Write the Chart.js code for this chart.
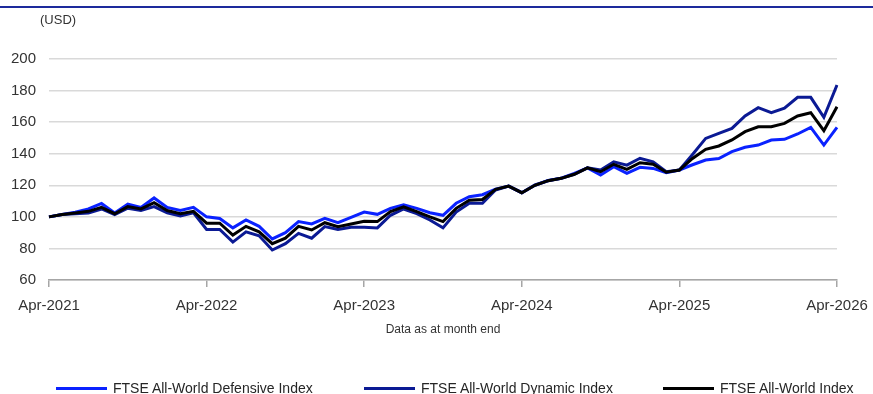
<!DOCTYPE html>
<html>
<head>
<meta charset="utf-8">
<script src="https://cdn.jsdelivr.net/npm/chart.js@4.4.0/dist/chart.umd.min.js"></script>
<style>
  html, body { margin: 0; padding: 0; background: #fff; }
  body { width: 873px; height: 394px; position: relative; overflow: hidden;
         font-family: "Liberation Sans", Arial, sans-serif; color: #333; }
  .topline { position: absolute; left: 0; top: 6px; width: 873px; height: 2px; background: #1d2a9c; }
  .unit { position: absolute; left: 40px; top: 12px; font-size: 13px; color: #333; }
  .note { position: absolute; left: 343px; width: 200px; top: 322px; text-align: center; font-size: 12px; color: #333; }
  #wrap { position: absolute; left: 0; top: 0; width: 873px; height: 394px; }
  .legend { position: absolute; top: 380px; left: 0; width: 873px; height: 16px; font-size: 14px; color: #262626; }
  .legend span { position: absolute; top: 0; white-space: nowrap; line-height: 16px; }
  .legend i { position: absolute; top: 7px; width: 51px; height: 3px; }
</style>
</head>
<body>
<div id="wrap"><canvas id="chart" width="873" height="394"></canvas></div>
<div class="topline"></div>
<div class="unit">(USD)</div>
<div class="note">Data as at month end</div>
<div class="legend" id="legend"></div>

<script>
// month-end index levels, Apr-2021 .. Apr-2026 (rebased to 100)
const defensive = [
  100, 101.5, 103, 105, 108.5, 102.5, 108, 106, 112, 106, 104, 106,
  100, 99, 93, 98, 94, 86, 90, 97, 95.5, 99, 96.3, 99.7,
  103, 101.6, 105.4, 107.7, 105.4, 102.6, 101, 108.6, 112.8, 114, 117.5, 119.5,
  115.3, 120, 123, 124.5, 127.5, 131, 126.5, 131.8, 127.6, 131.4, 130.7, 128,
  129.7, 133, 136, 136.9, 141.3, 144.1, 145.5, 148.7, 149.1, 152.5, 156.7, 145.5,
  156.7
];
const dynamic = [
  100, 101.5, 102, 102.5, 105, 101.5, 105.5, 104, 106.5, 102.5, 100.5, 102.5,
  92, 92, 84, 90.5, 88, 79, 83, 89.5, 86.5, 93.8, 92, 93.4,
  93.4, 93, 101, 105, 102, 98, 93, 103, 108.6, 108.6, 117, 119.5,
  115.3, 120.2, 122.9, 124.4, 127, 131, 129.7, 134.9, 132.8, 137.1, 134.9, 128.6,
  129.7, 139.5, 149.7, 152.9, 156, 163.9, 169.2, 166, 168.8, 175.7, 175.7, 163,
  183.5
];
const allWorld = [
  100, 101.5, 102.5, 103.5, 106, 102, 106.5, 105, 109, 104, 102, 103.5,
  96, 96, 88.5, 94, 90.5, 83, 86.5, 94, 91.7, 96.3, 93.8, 95.5,
  97.2, 97, 103.3, 106.4, 103.3, 100, 97, 105.4, 110.5, 111, 117.4, 119.5,
  115.3, 120, 122.9, 124.4, 127, 131, 128.6, 133.3, 130.1, 134.3, 133.3, 128.3,
  129.7, 137, 142.8, 144.9, 148.7, 154, 157.1, 157.1, 159.2, 163.9, 166, 154.6,
  169.8
];
const seriesNames = ["FTSE All-World Defensive Index", "FTSE All-World Dynamic Index", "FTSE All-World Index"];
const seriesColors = ["#0a22ff", "#0b1a94", "#000000"];
const tickLabels = ["Apr-2021", "Apr-2022", "Apr-2023", "Apr-2024", "Apr-2025", "Apr-2026"];
const yTicks = [60, 80, 100, 120, 140, 160, 180, 200];

const MON = ["Jan","Feb","Mar","Apr","May","Jun","Jul","Aug","Sep","Oct","Nov","Dec"];
const months = defensive.map((_, i) => {
  const m = 3 + i;
  return MON[m % 12] + "-" + (2021 + Math.floor(m / 12));
});

Chart.defaults.font.family = "'Liberation Sans', Arial, sans-serif";
Chart.defaults.color = "#333";

const series = [defensive, dynamic, allWorld];
new Chart(document.getElementById("chart"), {
  type: "line",
  data: {
    labels: months,
    datasets: series.map((d, k) => ({
      label: seriesNames[k],
      data: d,
      borderColor: seriesColors[k],
      borderWidth: 3,
      pointRadius: 0,
      tension: 0,
      fill: false,
      order: 3 - k,
    })),
  },
  options: {
    responsive: false,
    animation: false,
    devicePixelRatio: 1,
    layout: { padding: { top: 59, right: 36, left: 0, bottom: 74 } },
    plugins: { legend: { display: false }, tooltip: { enabled: false } },
    scales: {
      x: {
        afterFit(s) { s.height = 40; s.paddingLeft = 0; s.paddingRight = 0; },
        grid: { drawOnChartArea: false, drawTicks: true, tickLength: 7, color: "#a6a6a6", lineWidth: 1.5 },
        border: { color: "#a6a6a6", width: 1.5 },
        ticks: {
          autoSkip: false, maxRotation: 0, padding: 10,
          font: { size: 15 }, color: "#333",
          callback(v) {
            const lab = this.getLabelForValue(v);
            return tickLabels.includes(lab) ? lab : null;
          },
        },
      },
      y: {
        min: yTicks[0], max: yTicks[yTicks.length - 1],
        afterFit(s) { s.width = 49; },
        afterBuildTicks(s) { s.ticks = yTicks.map((v) => ({ value: v })); },
        grid: { drawTicks: false, color: "#d9d9d9", lineWidth: 1.5 },
        border: { display: false },
        ticks: { padding: 13, font: { size: 15 }, color: "#333" },
      },
    },
  },
});

// legend below the plot
const legendX = [56, 364, 663];
document.getElementById("legend").innerHTML = seriesNames.map((n, k) =>
  `<i style="left:${legendX[k]}px;background:${seriesColors[k]}"></i><span style="left:${legendX[k] + 57}px">${n}</span>`
).join("");
</script>
</body>
</html>
